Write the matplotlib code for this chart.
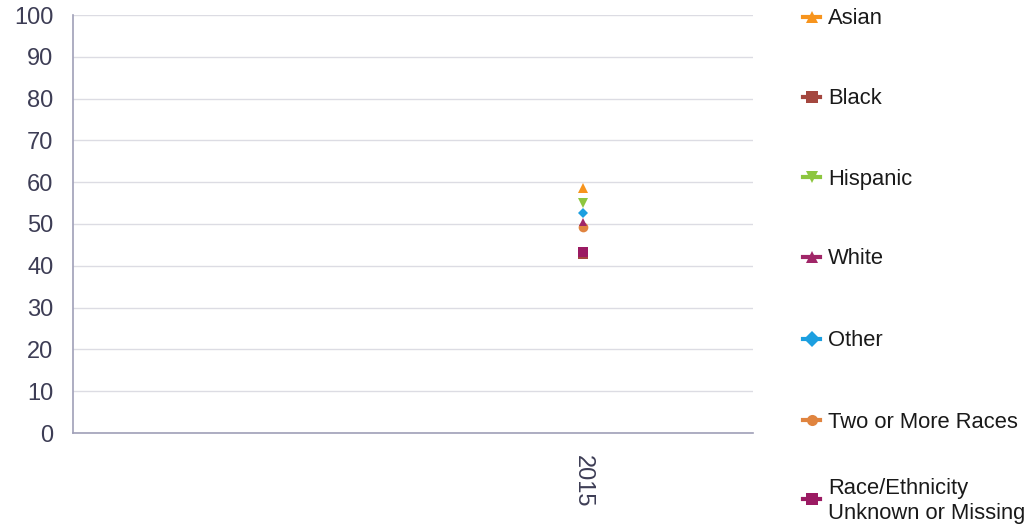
import matplotlib
matplotlib.use("Agg")
import matplotlib.pyplot as plt
from matplotlib.lines import Line2D

# data
years = ["", "2015"]
groups = ["Asian", "Black", "Hispanic", "White", "Other",
          "Two or More Races", "Race/Ethnicity\nUnknown or Missing"]
values_2015 = [58.6, 42.9, 55.0, 50.5, 52.6, 49.3, 43.3]
markers = ["^", "s", "v", "^", "D", "o", "s"]
colors = ["#F7941D", "#A4473F", "#8DC63F", "#A02668", "#1C9FE0",
          "#E0843F", "#9B1B63"]
sizes = [7, 7, 7, 6, 5, 7, 7]
draw_order = [1, 6, 5, 3, 4, 2, 0]

W, H = 1026, 529
fig = plt.figure(figsize=(W / 100, H / 100), dpi=100)
ax = fig.add_axes([73 / W, 1 - 433 / H, 680 / W, 418 / H])

for i in draw_order:
    ax.plot([1], [values_2015[i]], linestyle="none", marker=markers[i],
            markersize=sizes[i], color=colors[i], markeredgewidth=0, zorder=3)

FONT = "Liberation Sans"
FS_TICK = 17
FS_LEG = 15.8
ax.set_xlim(-0.5, 1.5)
ax.set_ylim(0, 100)
ax.set_yticks(range(0, 101, 10))
ax.set_xticks([1])
ax.set_xticklabels([years[1]], rotation=-90, fontsize=FS_TICK, color="#3D3D55",
                   family=FONT)
for lab in ax.get_yticklabels():
    lab.set_fontsize(FS_TICK)
    lab.set_color("#3D3D55")
    lab.set_family(FONT)
ax.tick_params(axis="y", length=0, pad=14)
ax.tick_params(axis="x", length=0, pad=16)
ax.grid(axis="y", color="#DCDCE3", linewidth=1)
ax.set_axisbelow(True)
for s in ["top", "right"]:
    ax.spines[s].set_visible(False)
for s in ["left", "bottom"]:
    ax.spines[s].set_color("#A0A0B8")
    ax.spines[s].set_linewidth(1.2)

# legend drawn by hand to match spacing of the reference
row_y = [17, 97, 177, 257, 339, 420, 499]
for c, m, g, y in zip(colors, markers, groups, row_y):
    fy = 1 - y / H
    fig.add_artist(Line2D([803 / W, 820 / W], [fy, fy], transform=fig.transFigure,
                          color=c, linewidth=3))
    fig.add_artist(Line2D([811.5 / W], [fy], transform=fig.transFigure,
                          color=c, marker=m, markersize=8, markeredgewidth=0,
                          linestyle="none"))
    fig.text(828 / W, fy - 2 / H, g, ha="left", va="center", fontsize=FS_LEG,
             family=FONT, color="#1A1A1A", linespacing=1.2)

fig.savefig("out.png", dpi=100)
